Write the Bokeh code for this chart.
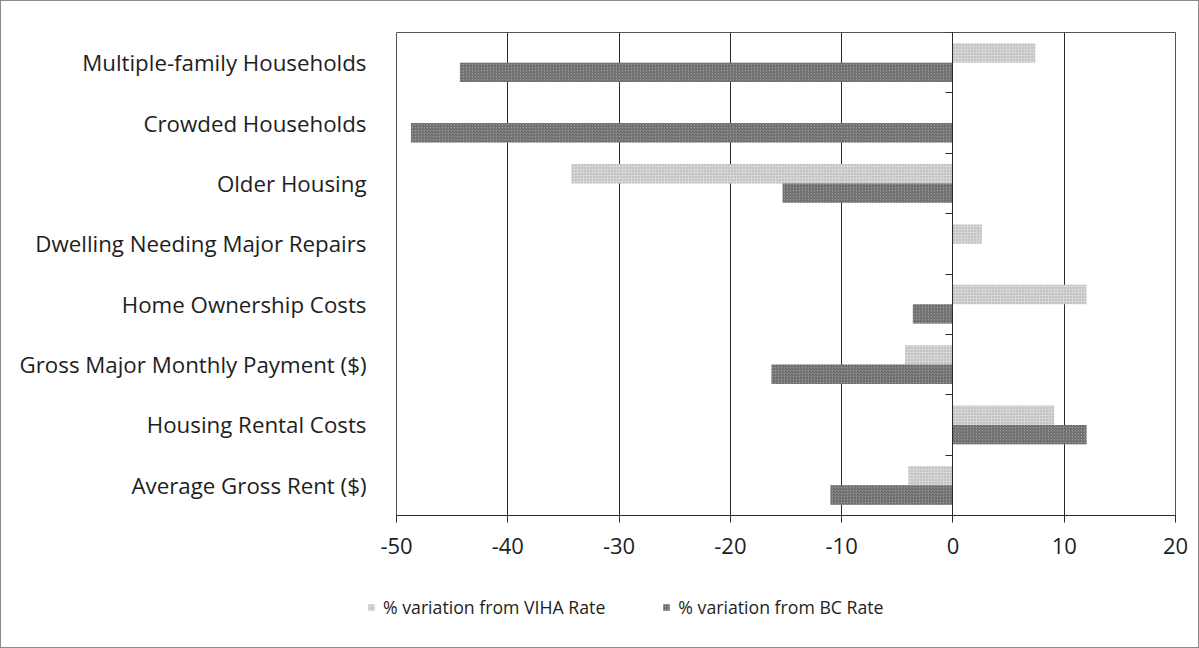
from bokeh.plotting import figure
from bokeh.layouts import column, row
from bokeh.models import (Range1d, LinearAxis, FixedTicker, Legend, LegendItem,
                          ColumnDataSource)
from bokeh.embed import file_html
from bokeh.resources import INLINE

# ---- data ----
categories = [
    "Multiple-family Households",
    "Crowded Households",
    "Older Housing",
    "Dwelling Needing Major Repairs",
    "Home Ownership Costs",
    "Gross Major Monthly Payment ($)",
    "Housing Rental Costs",
    "Average Gross Rent ($)",
]
viha_rate = [7.4, 0.0, -34.3, 2.6, 12.0, -4.3, 9.1, -4.0]
bc_rate = [-44.3, -48.7, -15.3, 0.0, -3.6, -16.3, 12.0, -11.0]
x_ticks = [-50, -40, -30, -20, -10, 0, 10, 20]
series_names = ["% variation from VIHA Rate", "% variation from BC Rate"]

FONT = "Open Sans"
TEXT = "#1e1e1e"
LINE = "#2a2a2a"
VIHA_STYLE = dict(fill_color="#d6d6d6", line_color=None, hatch_pattern="dot",
                  hatch_color="#a8a8a8", hatch_scale=3, hatch_weight=1)
BC_STYLE = dict(fill_color="#979797", line_color=None,
                hatch_pattern="right_diagonal_line", hatch_color="#5e5e5e",
                hatch_scale=3, hatch_weight=1)

n = len(categories)
centers = [n - i - 0.5 for i in range(n)]
bar_h = 0.32

src = ColumnDataSource(dict(
    cat=categories,
    viha=viha_rate,
    bc=bc_rate,
    y_viha=[c + bar_h / 2 for c in centers],
    y_bc=[c - bar_h / 2 for c in centers],
))

W = 1197
p = figure(width=W, height=566,
           x_range=Range1d(x_ticks[0], x_ticks[-1]), y_range=Range1d(0, n),
           output_backend="svg", toolbar_location=None, y_axis_location=None,
           min_border_left=395, min_border_right=23, min_border_top=31,
           min_border_bottom=52)

p.hbar(y="y_viha", left=0, right="viha", height=bar_h, source=src, **VIHA_STYLE)
p.hbar(y="y_bc", left=0, right="bc", height=bar_h, source=src, **BC_STYLE)

# x axis
xa = p.xaxis[0]
xa.ticker = FixedTicker(ticks=x_ticks)
xa.major_label_overrides = {t: str(t) for t in x_ticks}
xa.major_tick_in = 0
xa.major_tick_out = 7
xa.minor_tick_line_color = None
xa.axis_line_color = LINE
xa.major_tick_line_color = LINE
xa.major_label_text_font = FONT
xa.major_label_text_font_size = "22px"
xa.major_label_text_color = TEXT
xa.major_label_standoff = 15

p.xgrid.ticker = FixedTicker(ticks=x_ticks)
p.xgrid.grid_line_color = LINE
p.xgrid.grid_line_width = 1
p.ygrid.grid_line_color = None
p.outline_line_color = "#555555"
p.outline_line_width = 1

# category labels at the left
lab_axis = LinearAxis(ticker=FixedTicker(ticks=centers),
                      major_label_overrides={c: s for c, s in zip(centers, categories)},
                      axis_line_color=None, major_tick_line_color=None,
                      minor_tick_line_color=None, major_label_standoff=24,
                      major_label_text_font=FONT, major_label_text_font_size="22.3px",
                      major_label_text_color=TEXT)
p.add_layout(lab_axis, "left")

# vertical axis line at x = 0 with ticks at category boundaries
bounds = list(range(n + 1))
zero_axis = LinearAxis(ticker=FixedTicker(ticks=bounds), fixed_location=0,
                       major_label_overrides={b: "" for b in bounds},
                       axis_line_color=LINE, major_tick_line_color=LINE,
                       minor_tick_line_color=None, major_tick_in=0,
                       major_tick_out=7, major_label_text_font_size="1px")
p.add_layout(zero_axis, "left")

# ---- legend strip below the chart ----
LH = 646 - 566
lg = figure(width=W, height=LH, x_range=Range1d(0, 1), y_range=Range1d(0, 1),
            output_backend="svg", toolbar_location=None,
            x_axis_location=None, y_axis_location=None,
            min_border_left=366, min_border_right=0, min_border_top=28,
            min_border_bottom=0)
lg.grid.visible = False
lg.outline_line_color = None
dummy = ColumnDataSource(dict(y=[-10.0], right=[0.0]))
d1 = lg.hbar(y="y", left=0, right="right", height=0.1, source=dummy, **VIHA_STYLE)
d2 = lg.hbar(y="y", left=0, right="right", height=0.1, source=dummy, **BC_STYLE)

legend = Legend(items=[LegendItem(label=series_names[0], renderers=[d1]),
                       LegendItem(label=series_names[1], renderers=[d2])],
                orientation="horizontal", location="top_left",
                glyph_width=8, glyph_height=8, label_standoff=8, spacing=57,
                padding=0, margin=0, border_line_color=None,
                background_fill_alpha=0, label_text_font=FONT,
                label_text_font_size="17.7px", label_text_color=TEXT)
lg.add_layout(legend, "center")

layout = column(p, row(lg, spacing=0), spacing=0)
layout.styles = {"border": "1px solid #8a8a8a"}

open("out.html", "w").write(file_html(layout, INLINE))
